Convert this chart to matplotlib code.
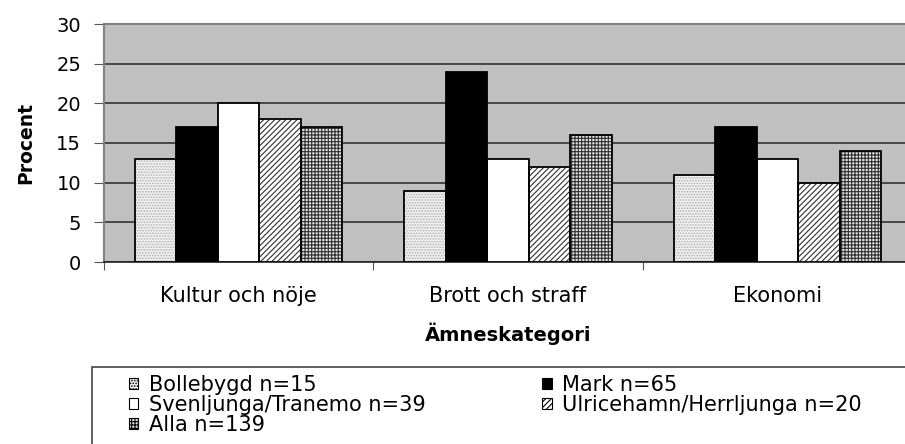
import numpy as np
import matplotlib
matplotlib.use("Agg")
import matplotlib.pyplot as plt
import matplotlib.patches as mpatches

plt.rcParams['font.family'] = ['DejaVu Sans']

categories = ["Kultur och nöje", "Brott och straff", "Ekonomi"]
series_names = ["Bollebygd n=15", "Mark n=65", "Svenljunga/Tranemo n=39",
                "Ulricehamn/Herrljunga n=20", "Alla n=139"]
values = [
    [13, 9, 11],   # Bollebygd
    [17, 24, 17],  # Mark
    [20, 13, 13],  # Svenljunga/Tranemo
    [18, 12, 10],  # Ulricehamn/Herrljunga
    [17, 16, 14],  # Alla
]
yticks = [0, 5, 10, 15, 20, 25, 30]

# face colour, hatch, hatch colour
styles = [
    ("#f0f0f0", "......", "#b0b0b0"),
    ("black", None, "black"),
    ("white", None, "white"),
    ("white", "//////", "#303030"),
    ("#e0e0e0", "+++++", "#303030"),
]

plt.rcParams['hatch.linewidth'] = 0.8

fig = plt.figure(figsize=(9.05, 4.44), dpi=100)
W, H = 905, 444
ax = fig.add_axes([104 / W, 1 - 262 / H, (912 - 104) / W, (262 - 24) / H])
ax.set_facecolor("#c0c0c0")

x = np.arange(len(categories))
bw = 0.154
handles = []
for i, (name, vals) in enumerate(zip(series_names, values)):
    fc, hatch, hc = styles[i]
    pos = x + (i - 2) * bw
    ax.bar(pos, vals, bw, color=fc, hatch=hatch, edgecolor=hc, linewidth=0, zorder=3)
    ax.bar(pos, vals, bw, fill=False, edgecolor="black", linewidth=1.3, zorder=4)
    handles.append(mpatches.Patch(facecolor=fc, hatch=hatch, edgecolor="black",
                                  linewidth=0.8, label=name))

ax.set_ylim(0, 30)
ax.set_xlim(-0.5, 2.5)
ax.set_yticks(yticks)
ax.yaxis.grid(True, color="#333333", linewidth=1.2, zorder=1)
ax.set_axisbelow(True)
ax.set_xticks([-0.5, 0.5, 1.5, 2.5])
ax.set_xticklabels([])
ax.set_xticks(x, minor=True)
ax.set_xticklabels(categories, minor=True, fontsize=15)
ax.tick_params(axis="x", which="minor", length=0, pad=17)
ax.tick_params(axis="x", which="major", length=6, color="#555555")
ax.tick_params(axis="y", length=7, labelsize=14, color="#555555", pad=9.5)
for s in ["left", "top", "right"]:
    ax.spines[s].set_color("#808080")
    ax.spines[s].set_linewidth(1.5)
ax.spines["bottom"].set_color("#222222")
ax.spines["bottom"].set_linewidth(1.2)

ax.set_ylabel("Procent", fontsize=13.5, fontweight="bold", labelpad=15)
ax.set_xlabel("Ämneskategori", fontsize=14, fontweight="bold", labelpad=12)

# legend frame extends beyond the figure edges
frame = mpatches.Rectangle((92 / W, -0.1), 1.0, 1 - 367 / H + 0.1,
                           transform=fig.transFigure, fill=False,
                           edgecolor="#444444", linewidth=1.2)
fig.patches.append(frame)

order = [0, 2, 4, 1, 3]
fig.legend([handles[k] for k in order], [series_names[k] for k in order],
           loc="upper left", bbox_to_anchor=(129 / W, 1 - 375 / H),
           ncol=2, frameon=False, fontsize=15, handlelength=0.45,
           handleheight=0.45, handletextpad=0.5, columnspacing=5.6,
           labelspacing=0.0, borderaxespad=0, borderpad=0)

fig.savefig("out.png", dpi=100)
